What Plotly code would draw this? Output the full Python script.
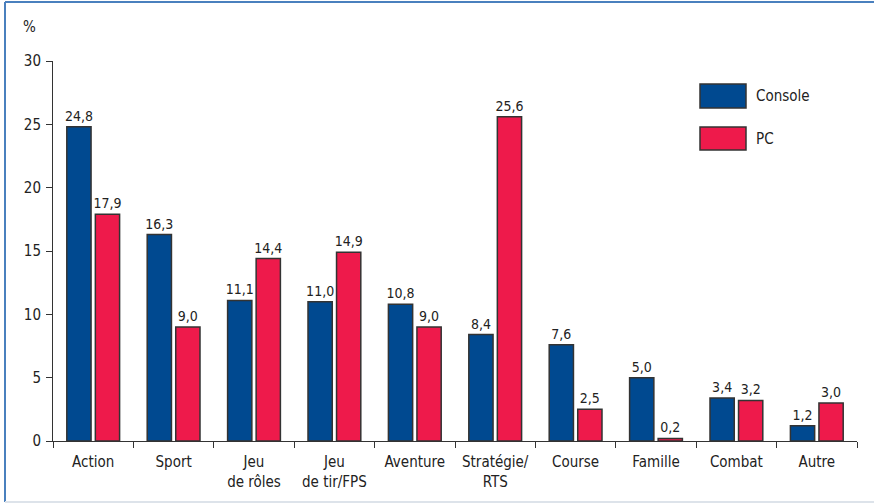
import plotly.graph_objects as go

categories = ["Action", "Sport", "Jeu<br>de rôles", "Jeu<br>de tir/FPS", "Aventure",
              "Stratégie/<br>RTS", "Course", "Famille", "Combat", "Autre"]
console_values = [24.8, 16.3, 11.1, 11.0, 10.8, 8.4, 7.6, 5.0, 3.4, 1.2]
pc_values = [17.9, 9.0, 14.4, 14.9, 9.0, 25.6, 2.5, 0.2, 3.2, 3.0]
series_names = ["Console", "PC"]
y_ticks = [0, 5, 10, 15, 20, 25, 30]

FONT = "DejaVu Sans Condensed, Liberation Sans Narrow, sans-serif"
BLUE = "#004990"
RED = "#EE1A4B"
OUTLINE = "#333333"

fig = go.Figure()
for name, vals, col in [(series_names[0], console_values, BLUE), (series_names[1], pc_values, RED)]:
    fig.add_trace(go.Bar(
        x=categories, y=vals, name=name,
        marker=dict(color=col, line=dict(color=OUTLINE, width=1.5)),
        texttemplate="%{y:.1f}", textposition="outside", constraintext="none",
        textfont=dict(family=FONT, size=14, color="#222"),
        cliponaxis=False, showlegend=False, hoverinfo="skip",
    ))

fig.update_layout(
    width=874, height=504,
    margin=dict(l=53, r=17, t=61, b=63, autoexpand=False),
    paper_bgcolor="white", plot_bgcolor="white",
    barmode="group", bargap=0.29, bargroupgap=0.15,
    separators=", ",
    font=dict(family=FONT, size=15, color="#222"),
    xaxis=dict(
        showline=True, linecolor="#333", linewidth=1,
        ticks="outside", ticklen=6, tickcolor="#333", tickson="boundaries",
        showgrid=False, tickfont=dict(size=15), tickangle=0, automargin=False,
        ticklabelstandoff=7,
    ),
    yaxis=dict(
        range=[0, 30], tickvals=y_ticks,
        showline=True, linecolor="#333", linewidth=1,
        ticks="outside", ticklen=6, tickcolor="#333",
        showgrid=False, zeroline=False, tickfont=dict(size=15),
        ticklabelstandoff=2, automargin=False,
    ),
)

# frame
fx0, fx1 = (5 - 53) / 804, (874 - 53) / 804
fy0, fy1 = (441 - 502) / 380, (441 - 2) / 380
fig.add_shape(type="line", xref="paper", yref="paper", x0=fx0, x1=fx0, y0=fy0, y1=fy1,
              line=dict(color="#4A80BE", width=2))
fig.add_shape(type="line", xref="paper", yref="paper", x0=fx0, x1=fx1, y0=fy1, y1=fy1,
              line=dict(color="#4A80BE", width=2))
fig.add_shape(type="line", xref="paper", yref="paper", x0=fx0, x1=fx1, y0=fy0, y1=fy0,
              line=dict(color="#DDE3EA", width=2))

# legend
leg = [(series_names[0], BLUE, 84, 108, 96), (series_names[1], RED, 127, 150, 139)]
for name, col, ytop, ybot, ytext in leg:
    fig.add_shape(type="rect", xref="paper", yref="paper",
                  x0=(700 - 53) / 804, x1=(746 - 53) / 804,
                  y0=(441 - ybot) / 380, y1=(441 - ytop) / 380,
                  fillcolor=col, line=dict(color=OUTLINE, width=1.5))
    fig.add_annotation(xref="paper", yref="paper", x=(754 - 53) / 804, y=(441 - ytext) / 380,
                       text=name, showarrow=False, xanchor="left", yanchor="middle",
                       font=dict(size=15))

fig.add_annotation(xref="paper", yref="paper", x=(29 - 53) / 804, y=(441 - 27) / 380,
                   text="%", showarrow=False, xanchor="center", yanchor="middle",
                   font=dict(size=15))

fig.write_html("out.html", config={"displayModeBar": False},
               post_script="document.body.style.margin='0';")
